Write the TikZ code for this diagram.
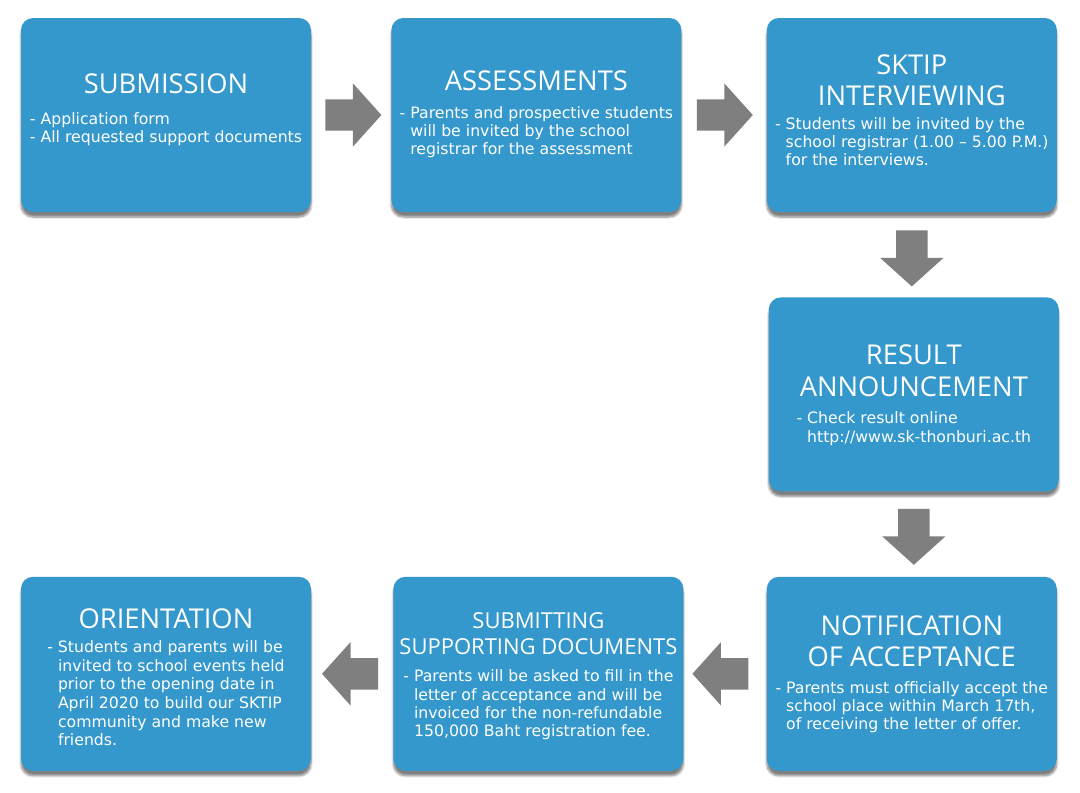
\documentclass[tikz,border=0pt]{standalone}
\usepackage{fontspec}
\setmainfont{Open Sans}
\newfontfamily\bodyfont{DejaVu Sans}
\usetikzlibrary{positioning,shapes.arrows,shadows.blur}

\definecolor{stageblue}{RGB}{52,152,204}
\definecolor{arrowgray}{RGB}{127,127,127}
\newcommand{\indnt}{\hphantom{-\ }}

\tikzset{
  stage/.style={rectangle, rounded corners=12pt, fill=stageblue, inner sep=0pt,
    minimum width=290pt, minimum height=194pt,
    blur shadow={shadow xshift=0pt, shadow yshift=-5pt, shadow blur steps=6, shadow opacity=50}},
  heading/.style={text=white, anchor=base, align=center, inner sep=0pt, font=\fontsize{27.3}{31.5}\selectfont},
  detail/.style={text=white, anchor=base, align=left, inner sep=0pt, font=\bodyfont\fontsize{15.7}{18.3}\selectfont},
  blockarrow/.style={single arrow, fill=arrowgray, inner sep=0pt, text height=15.5pt, text depth=15.5pt,
    minimum height=56pt, minimum width=63pt, single arrow head extend=16pt, single arrow tip angle=96,
    anchor=tail},
}

\begin{document}
\begin{tikzpicture}[x=1pt, y=-1pt]
  \useasboundingbox (0,0) rectangle (1080,793);
  \node (sub) [stage] at (166,115) {};
  \node (ass) [stage, right=80pt of sub] {};
  \node (int) [stage, right=85pt of ass] {};
  \node (res) [stage, below=85pt of int, xshift=2pt] {};
  \node (noti) [stage, below=85pt of res, xshift=-2pt] {};
  \node (supp) [stage, left=83pt of noti] {};
  \node (ori) [stage, left=82pt of supp] {};

  % base = baseline of the last line
  \node (sub-head) [heading] at ([yshift=-76pt]sub.north) {SUBMISSION};
  \node (sub-text) [detail] at ([yshift=-125pt]sub.north) {- Application form\\- All requested support documents};
  \node (ass-head) [heading] at ([yshift=-73pt]ass.north) {ASSESSMENTS};
  \node (ass-text) [detail] at ([yshift=-137pt]ass.north) {- Parents and prospective students\\\indnt will be invited by the school\\\indnt registrar for the assessment};
  \node (int-head) [heading] at ([yshift=-88pt]int.north) {SKTIP\\INTERVIEWING};
  \node (int-text) [detail] at ([yshift=-148pt]int.north) {- Students will be invited by the\\\indnt school registrar (1.00 – 5.00 P.M.)\\\indnt for the interviews.};
  \node (res-head) [heading] at ([yshift=-99pt]res.north) {RESULT\\ANNOUNCEMENT};
  \node (res-text) [detail] at ([yshift=-145pt]res.north) {- Check result online\\\indnt http://www.sk-thonburi.ac.th};
  \node (noti-head) [heading] at ([yshift=-90pt]noti.north) {NOTIFICATION\\OF ACCEPTANCE};
  \node (noti-text) [detail] at ([yshift=-153pt]noti.north) {- Parents must officially accept the\\\indnt school place within March 17th,\\\indnt of receiving the letter of offer.};
  \node (supp-head) [heading, font=\fontsize{22}{26}\selectfont] at ([yshift=-78pt]supp.north) {SUBMITTING\\SUPPORTING DOCUMENTS};
  \node (supp-text) [detail] at ([yshift=-160pt]supp.north) {- Parents will be asked to fill in the\\\indnt letter of acceptance and will be\\\indnt invoiced for the non-refundable\\\indnt 150,000 Baht registration fee.};
  \node (ori-head) [heading] at ([yshift=-52pt]ori.north) {ORIENTATION};
  \node (ori-text) [detail, font=\bodyfont\fontsize{15.7}{18.6}\selectfont] at ([yshift=-169pt]ori.north) {- Students and parents will be\\\indnt invited to school events held\\\indnt prior to the opening date in\\\indnt April 2020 to build our SKTIP\\\indnt community and make new\\\indnt friends.};

  \node (a1) [blockarrow] at ([xshift=14pt]sub.east) {};
  \node (a2) [blockarrow] at ([xshift=15pt]ass.east) {};
  \node (a3) [blockarrow, rotate=-90] at ([yshift=-18pt]int.south) {};
  \node (a4) [blockarrow, rotate=-90] at ([yshift=-17pt]res.south) {};
  \node (a5) [blockarrow, rotate=180] at ([xshift=-18pt]noti.west) {};
  \node (a6) [blockarrow, rotate=180] at ([xshift=-15pt]supp.west) {};
\end{tikzpicture}
\end{document}
